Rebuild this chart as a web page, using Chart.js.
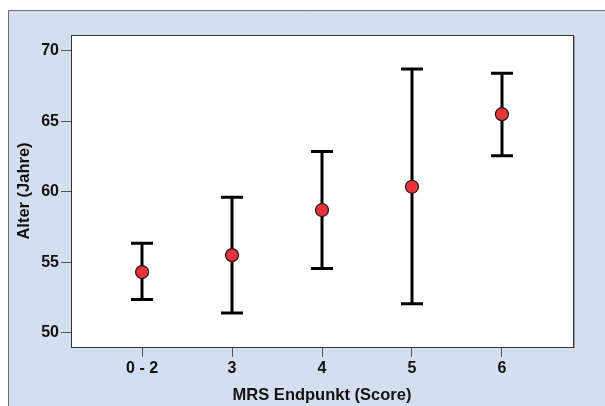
<!DOCTYPE html>
<html>
<head>
<meta charset="utf-8">
<script src="https://cdn.jsdelivr.net/npm/chart.js@4/dist/chart.umd.min.js"></script>
<style>
  html, body { margin: 0; padding: 0; background: #fff; }
  #wrap { width: 605px; height: 406px; }
</style>
</head>
<body>
<div id="wrap"><canvas id="alterChart"></canvas></div>
<script>
// MRS Gruppen und Alter: Mittelwert mit Fehlerbalken
const gruppen = ["0 - 2", "3", "4", "5", "6"];
const mittelwert = [54.3, 55.5, 58.7, 60.35, 65.5];
const obereGrenze = [56.35, 59.6, 62.85, 68.7, 68.4];
const untereGrenze = [52.35, 51.4, 54.55, 52.05, 62.55];
const yTicks = [50, 55, 60, 65, 70];

const hintergrund = "#d3dfee";
const schrift = "'Liberation Sans', Arial, sans-serif";

// Rahmen, blaue Fläche und weißer Plotbereich
const rahmen = {
  id: "rahmen",
  beforeDraw(chart) {
    const { ctx, chartArea: a } = chart;
    ctx.save();
    ctx.fillStyle = "#fff";
    ctx.fillRect(0, 0, chart.width, chart.height);
    ctx.fillStyle = hintergrund;
    ctx.fillRect(8, 10, chart.width - 8, chart.height - 10);
    ctx.strokeStyle = "#6b6e73";
    ctx.lineWidth = 1;
    ctx.beginPath();
    ctx.moveTo(8.5, chart.height);
    ctx.lineTo(8.5, 10.5);
    ctx.lineTo(chart.width, 10.5);
    ctx.stroke();
    ctx.fillStyle = "#fff";
    ctx.fillRect(a.left, a.top, a.right - a.left, a.bottom - a.top);
    ctx.restore();
  },
  afterDraw(chart) {
    const { ctx, chartArea: a } = chart;
    ctx.save();
    ctx.lineWidth = 1;
    ctx.strokeStyle = "#9a9a9a";
    ctx.beginPath();
    ctx.moveTo(a.right + 1.5, a.top + 1);
    ctx.lineTo(a.right + 1.5, a.bottom + 1);
    ctx.stroke();
    ctx.strokeStyle = "#333";
    ctx.strokeRect(a.left + 0.5, a.top + 0.5, a.right - a.left, a.bottom - a.top);
    ctx.restore();
  }
};

// Fehlerbalken mit Querstrichen, unter den Punkten gezeichnet
const fehlerbalken = {
  id: "fehlerbalken",
  beforeDatasetsDraw(chart) {
    const { ctx, scales: { x, y } } = chart;
    ctx.save();
    ctx.strokeStyle = "#000";
    ctx.lineWidth = 3;
    ctx.lineCap = "butt";
    gruppen.forEach((g, i) => {
      const px = Math.round(x.getPixelForValue(i));
      const top = y.getPixelForValue(obereGrenze[i]);
      const bot = y.getPixelForValue(untereGrenze[i]);
      ctx.beginPath();
      ctx.moveTo(px, top);
      ctx.lineTo(px, bot);
      ctx.moveTo(px - 11, top);
      ctx.lineTo(px + 11, top);
      ctx.moveTo(px - 11, bot);
      ctx.lineTo(px + 11, bot);
      ctx.stroke();
    });
    ctx.restore();
  }
};

new Chart(document.getElementById("alterChart"), {
  type: "scatter",
  data: {
    datasets: [{
      data: mittelwert.map((v, i) => ({ x: i, y: v })),
      pointRadius: 6.5,
      pointHoverRadius: 6.5,
      backgroundColor: "#e8323c",
      borderColor: "#1a1a1a",
      borderWidth: 1.2
    }]
  },
  options: {
    responsive: true,
    maintainAspectRatio: false,
    animation: false,
    events: [],
    layout: { padding: { left: 8, top: 35, right: 32, bottom: 0 } },
    plugins: { legend: { display: false }, tooltip: { enabled: false } },
    scales: {
      x: {
        type: "linear",
        min: -0.79,
        max: 4.79,
        afterBuildTicks(scale) {
          scale.ticks = gruppen.map((g, i) => ({ value: i }));
        },
        afterFit(scale) { scale.height = 59; },
        grid: { display: true, drawOnChartArea: false, tickLength: 10, color: "#555" },
        border: { display: false },
        ticks: {
          padding: 2,
          color: "#111",
          font: { family: schrift, size: 16, weight: "bold" },
          callback: (v) => gruppen[v]
        },
        title: {
          display: true,
          text: "MRS Endpunkt (Score)",
          color: "#111",
          font: { family: schrift, size: 16.5, weight: "bold" },
          padding: { top: 0, bottom: 1 }
        }
      },
      y: {
        min: 48.98,
        max: 71.12,
        afterBuildTicks(scale) {
          scale.ticks = yTicks.map((v) => ({ value: v }));
        },
        afterFit(scale) { scale.width = 63; },
        grid: { display: true, drawOnChartArea: false, tickLength: 10, color: "#555" },
        border: { display: false },
        ticks: {
          padding: 2,
          color: "#111",
          font: { family: schrift, size: 16, weight: "bold" }
        },
        title: {
          display: true,
          text: "Alter (Jahre)",
          color: "#111",
          font: { family: schrift, size: 16.5, weight: "bold" },
          padding: { top: 7, bottom: 0 }
        }
      }
    }
  },
  plugins: [rahmen, fehlerbalken]
});
</script>
</body>
</html>
